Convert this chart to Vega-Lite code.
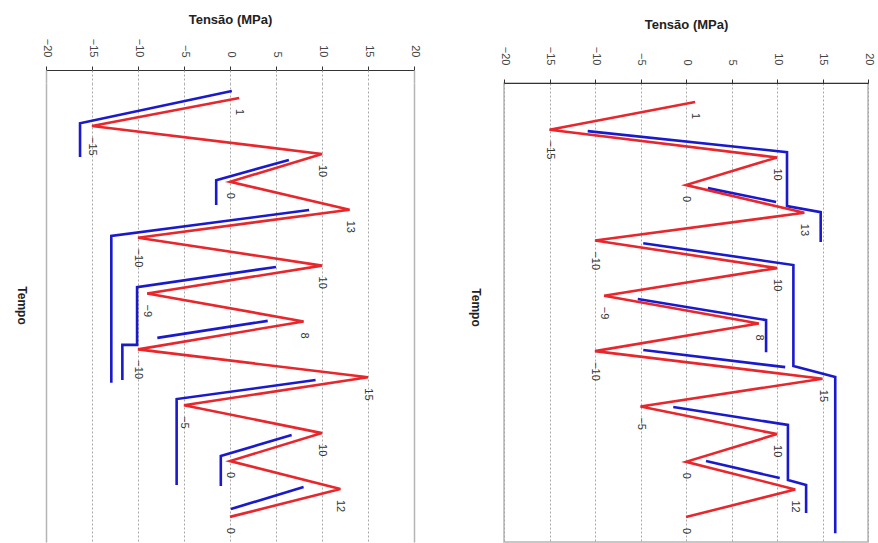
{
  "$schema": "https://vega.github.io/schema/vega-lite/v6.json",
  "padding": {"left": 15, "top": 13, "right": 0, "bottom": 0},
  "background": "white",
  "config": {
    "font": "Liberation Sans",
    "view": {"stroke": "#b5b5b5", "strokeWidth": 1.5}
  },
  "datasets": {
    "red": [
      {"t": 0, "v": 1}, {"t": 1, "v": -15}, {"t": 2, "v": 10}, {"t": 3, "v": 0},
      {"t": 4, "v": 13}, {"t": 5, "v": -10}, {"t": 6, "v": 10}, {"t": 7, "v": -9},
      {"t": 8, "v": 8}, {"t": 9, "v": -10}, {"t": 10, "v": 15}, {"t": 11, "v": -5},
      {"t": 12, "v": 10}, {"t": 13, "v": 0}, {"t": 14, "v": 12}, {"t": 15, "v": 0}
    ],
    "blueL": [
      {"seg": "A", "ord": 1, "t": -0.25, "v": 0.2},
      {"seg": "A", "ord": 2, "t": 0.9, "v": -16.3},
      {"seg": "A", "ord": 3, "t": 2.11, "v": -16.3},
      {"seg": "B", "ord": 1, "t": 2.22, "v": 6.4},
      {"seg": "B", "ord": 2, "t": 2.94, "v": -1.5},
      {"seg": "B", "ord": 3, "t": 3.83, "v": -1.5},
      {"seg": "C", "ord": 1, "t": 4.01, "v": 8.6},
      {"seg": "C", "ord": 2, "t": 4.94, "v": -12.9},
      {"seg": "C", "ord": 3, "t": 10.2, "v": -12.9},
      {"seg": "D", "ord": 1, "t": 6.05, "v": 5.0},
      {"seg": "D", "ord": 2, "t": 6.77, "v": -10.1},
      {"seg": "D", "ord": 3, "t": 8.84, "v": -10.1},
      {"seg": "D", "ord": 4, "t": 8.84, "v": -11.7},
      {"seg": "D", "ord": 5, "t": 10.1, "v": -11.7},
      {"seg": "E", "ord": 1, "t": 7.98, "v": 4.1},
      {"seg": "E", "ord": 2, "t": 8.59, "v": -7.9},
      {"seg": "F", "ord": 1, "t": 10.1, "v": 9.3},
      {"seg": "F", "ord": 2, "t": 10.78, "v": -5.8},
      {"seg": "F", "ord": 3, "t": 13.86, "v": -5.8},
      {"seg": "G", "ord": 1, "t": 12.07, "v": 6.7},
      {"seg": "G", "ord": 2, "t": 12.82, "v": -1.0},
      {"seg": "G", "ord": 3, "t": 13.89, "v": -1.0},
      {"seg": "H", "ord": 1, "t": 13.93, "v": 8.0},
      {"seg": "H", "ord": 2, "t": 14.72, "v": 0.1}
    ],
    "blueR": [
      {"seg": "A", "ord": 1, "t": 1.05, "v": -10.8},
      {"seg": "A", "ord": 2, "t": 1.81, "v": 11.1},
      {"seg": "A", "ord": 3, "t": 3.76, "v": 11.1},
      {"seg": "A", "ord": 4, "t": 3.98, "v": 14.8},
      {"seg": "A", "ord": 5, "t": 5.06, "v": 14.8},
      {"seg": "B", "ord": 1, "t": 3.11, "v": 2.4},
      {"seg": "B", "ord": 2, "t": 3.61, "v": 9.9},
      {"seg": "C", "ord": 1, "t": 5.1, "v": -4.7},
      {"seg": "C", "ord": 2, "t": 5.89, "v": 11.8},
      {"seg": "C", "ord": 3, "t": 9.54, "v": 11.8},
      {"seg": "C", "ord": 4, "t": 9.94, "v": 16.4},
      {"seg": "C", "ord": 5, "t": 15.58, "v": 16.4},
      {"seg": "D", "ord": 1, "t": 7.12, "v": -5.3},
      {"seg": "D", "ord": 2, "t": 7.88, "v": 8.8},
      {"seg": "D", "ord": 3, "t": 9.04, "v": 8.8},
      {"seg": "E", "ord": 1, "t": 8.96, "v": -4.7},
      {"seg": "E", "ord": 2, "t": 9.58, "v": 10.9},
      {"seg": "F", "ord": 1, "t": 11.02, "v": -1.4},
      {"seg": "F", "ord": 2, "t": 11.67, "v": 11.2},
      {"seg": "F", "ord": 3, "t": 13.66, "v": 11.2},
      {"seg": "F", "ord": 4, "t": 13.84, "v": 13.2},
      {"seg": "F", "ord": 5, "t": 14.85, "v": 13.2},
      {"seg": "G", "ord": 1, "t": 12.97, "v": 2.2},
      {"seg": "G", "ord": 2, "t": 13.59, "v": 10.3}
    ]
  },
  "spacing": 48,
  "hconcat": [
    {
      "width": 368,
      "height": 459,
      "view": {"stroke": null},
      "resolve": {"axis": {"x": "independent"}},
      "encoding": {
        "y": {
          "field": "t", "type": "quantitative",
          "scale": {"domain": [-0.54, 15.9], "nice": false, "zero": false, "reverse": true},
          "axis": {
            "title": "Tempo", "labels": false, "ticks": false, "domain": false, "grid": false,
            "titleAngle": 90, "titleBaseline": "top", "titlePadding": 20, "titleY": 222,
            "titleFontSize": 12, "titleFontWeight": "bold", "titleColor": "#222"
          }
        }
      },
      "layer": [
        {
          "data": {"name": "blueL"},
          "mark": {"type": "line", "color": "#1a1acc", "strokeWidth": 2.6},
          "encoding": {
            "x": {
              "field": "v", "type": "quantitative",
              "scale": {"domain": [-20, 20], "nice": false},
              "axis": {
                "orient": "top", "title": "Tensão (MPa)", "offset": 13,
                "values": [-20, -15, -10, -5, 0, 5, 10, 15, 20],
                "labelAngle": 90, "labelAlign": "right", "labelBaseline": "middle",
                "labelFontSize": 11, "labelColor": "#444", "labelPadding": 9,
                "tickSize": 4, "tickColor": "#333", "domainColor": "#333",
                "titleFontSize": 13, "titleFontWeight": "bold", "titleColor": "#222", "titlePadding": 12,
                "grid": true,
                "gridDash": {"condition": {"test": "abs(datum.value) == 20", "value": []}, "value": [2, 2]},
                "gridColor": {"condition": {"test": "abs(datum.value) == 20", "value": "#b5b5b5"}, "value": "#a8a8a8"},
                "gridWidth": {"condition": {"test": "abs(datum.value) == 20", "value": 1.5}, "value": 1}
              }
            },
            "detail": {"field": "seg"},
            "order": {"field": "ord"}
          }
        },
        {
          "data": {"name": "red"},
          "mark": {"type": "line", "color": "#e8262b", "strokeWidth": 2.6},
          "encoding": {
            "x": {
              "field": "v", "type": "quantitative",
              "scale": {"domain": [-20, 20], "nice": false},
              "axis": {
                "orient": "top", "title": null, "offset": 13,
                "values": [-20, -15, -10, -5, 0, 5, 10, 15, 20],
                "labels": false, "domain": false, "grid": false,
                "tickSize": -13,
                "tickDash": {"condition": {"test": "abs(datum.value) == 20", "value": []}, "value": [2, 2]},
                "tickColor": {"condition": {"test": "abs(datum.value) == 20", "value": "#b5b5b5"}, "value": "#a8a8a8"},
                "tickWidth": {"condition": {"test": "abs(datum.value) == 20", "value": 1.5}, "value": 1}
              }
            },
            "order": {"field": "t"}
          }
        },
        {
          "data": {"name": "red"},
          "mark": {"type": "text", "angle": 90, "align": "left", "baseline": "middle", "dx": 11, "fontSize": 11, "color": "#333"},
          "encoding": {
            "x": {"field": "v", "type": "quantitative", "scale": {"domain": [-20, 20], "nice": false}, "axis": null},
            "text": {"field": "v", "type": "quantitative", "format": "d"}
          }
        }
      ]
    },
    {
      "width": 364,
      "height": 459,
      "encoding": {
        "x": {
          "field": "v", "type": "quantitative",
          "scale": {"domain": [-20, 20], "nice": false},
          "axis": {
            "orient": "top", "title": "Tensão (MPa)",
            "values": [-20, -15, -10, -5, 0, 5, 10, 15, 20],
            "labelAngle": 90, "labelAlign": "right", "labelBaseline": "middle",
            "labelFontSize": 11, "labelColor": "#444", "labelPadding": 14,
            "tickSize": 4, "tickColor": "#333", "domainColor": "#333",
            "titleFontSize": 13, "titleFontWeight": "bold", "titleColor": "#222", "titlePadding": 15,
            "grid": true, "gridDash": [2, 2], "gridColor": "#a8a8a8"
          }
        },
        "y": {
          "field": "t", "type": "quantitative",
          "scale": {"domain": [-0.69, 15.9], "nice": false, "zero": false, "reverse": true},
          "axis": {
            "title": "Tempo", "labels": false, "ticks": false, "domain": false, "grid": false,
            "titleAngle": 90, "titleBaseline": "top", "titlePadding": 24, "titleY": 224,
            "titleFontSize": 12, "titleFontWeight": "bold", "titleColor": "#222"
          }
        }
      },
      "layer": [
        {
          "data": {"name": "blueR"},
          "mark": {"type": "line", "color": "#1a1acc", "strokeWidth": 2.6},
          "encoding": {"detail": {"field": "seg"}, "order": {"field": "ord"}}
        },
        {
          "data": {"name": "red"},
          "mark": {"type": "line", "color": "#e8262b", "strokeWidth": 2.6},
          "encoding": {"order": {"field": "t"}}
        },
        {
          "data": {"name": "red"},
          "mark": {"type": "text", "angle": 90, "align": "left", "baseline": "middle", "dx": 11, "fontSize": 11, "color": "#333"},
          "encoding": {"text": {"field": "v", "type": "quantitative", "format": "d"}}
        }
      ]
    }
  ]
}
